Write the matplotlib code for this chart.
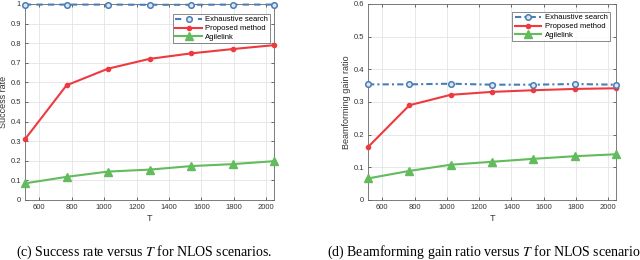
import matplotlib
matplotlib.use("Agg")
import matplotlib.pyplot as plt

T = [512, 768, 1024, 1280, 1536, 1792, 2048]
xticks = [600, 800, 1000, 1200, 1400, 1600, 1800, 2000]

sr_exhaustive = [0.997, 0.997, 0.997, 0.996, 0.996, 0.997, 0.997]
sr_proposed = [0.31, 0.585, 0.67, 0.72, 0.748, 0.77, 0.79]
sr_agile = [0.085, 0.118, 0.145, 0.155, 0.173, 0.183, 0.198]

bg_exhaustive = [0.354, 0.354, 0.356, 0.353, 0.353, 0.355, 0.353]
bg_proposed = [0.162, 0.29, 0.322, 0.331, 0.336, 0.340, 0.342]
bg_agile = [0.066, 0.089, 0.108, 0.117, 0.126, 0.134, 0.140]

labels = ["Exhaustive search", "Proposed method", "Agilelink"]
captions = ["(c) Success rate versus $T$ for NLOS scenarios.",
            "(d) Beamforming gain ratio versus $T$ for NLOS scenarios."]

BLUE = "#4a7db5"
RED = "#ee3a3f"
GREEN = "#62bb5c"

plt.rcParams["font.family"] = ["Liberation Sans", "DejaVu Sans"]
plt.rcParams["mathtext.fontset"] = "stix"

fig = plt.figure(figsize=(6.4, 2.6), dpi=100)
ax1 = fig.add_axes([25/640, 1-200/260, 249/640, 196/260])
ax2 = fig.add_axes([368/640, 1-200/260, 248/640, 196/260])

def style(ax, ylim, yticks, ylabel, yticklabels=None):
    ax.set_xlim(512, 2048)
    ax.set_ylim(*ylim)
    ax.set_xticks(xticks)
    ax.set_yticks(yticks)
    if yticklabels is not None:
        ax.set_yticklabels(yticklabels)
    ax.grid(True, color="#e4e4e4", linewidth=0.6)
    ax.set_axisbelow(True)
    ax.tick_params(direction="in", length=2.5, width=0.5, labelsize=5.5,
                   colors="#333333", pad=3, top=True, right=True)
    for s in ax.spines.values():
        s.set_color("#666666")
        s.set_linewidth(0.6)
    ax.set_xlabel("T", fontsize=6.5, color="#333333", labelpad=2)
    ax.set_ylabel(ylabel, fontsize=6.5, color="#333333", labelpad=2)

LW = 1.5
# left
ax1.plot(T, sr_exhaustive, color=BLUE, linestyle=(0, (3, 2.5)), linewidth=LW,
         marker="o", markersize=4, markerfacecolor="#dbe6f2", markeredgewidth=1.1,
         label=labels[0], clip_on=False, zorder=4)
ax1.plot(T, sr_proposed, color=RED, linewidth=LW, marker="o", markersize=3,
         label=labels[1], clip_on=False, zorder=3)
ax1.plot(T, sr_agile, color=GREEN, linewidth=LW, marker="^", markersize=5.5,
         label=labels[2], clip_on=False, zorder=3)
style(ax1, (0, 1), [i/10 for i in range(11)], "Success rate",
      ["0", "0.1", "0.2", "0.3", "0.4", "0.5", "0.6", "0.7", "0.8", "0.9", "1"])
leg1 = ax1.legend(loc="upper right", fontsize=5.5, frameon=True, fancybox=False,
                  borderpad=0.3, handlelength=3.5, handletextpad=0.4,
                  labelspacing=0.2, bbox_to_anchor=(1.0, 0.97))
leg1.get_frame().set_edgecolor("#333333")
leg1.get_frame().set_linewidth(0.5)

# right
ax2.plot(T, bg_exhaustive, color=BLUE, linestyle=(0, (3, 1.5, 1, 1.5)), linewidth=LW,
         marker="o", markersize=4, markerfacecolor="#dbe6f2", markeredgewidth=1.1,
         label=labels[0], clip_on=False, zorder=4)
ax2.plot(T, bg_proposed, color=RED, linewidth=LW, marker="o", markersize=3,
         label=labels[1], clip_on=False, zorder=3)
ax2.plot(T, bg_agile, color=GREEN, linewidth=LW, marker="^", markersize=5.5,
         label=labels[2], clip_on=False, zorder=3)
style(ax2, (0, 0.6), [0, 0.1, 0.2, 0.3, 0.4, 0.5, 0.6], "Beamforming gain ratio",
      ["0", "0.1", "0.2", "0.3", "0.4", "0.5", "0.6"])
leg2 = ax2.legend(loc="upper right", fontsize=5.5, frameon=True, fancybox=False,
                  borderpad=0.3, handlelength=3.5, handletextpad=0.4,
                  labelspacing=0.2, bbox_to_anchor=(0.99, 0.98))
leg2.get_frame().set_edgecolor("#333333")
leg2.get_frame().set_linewidth(0.5)

fig.text(16/640, 1-252/260, captions[0], fontsize=10, family="Liberation Serif",
         va="center", ha="left")
fig.text(327/640, 1-252/260, captions[1], fontsize=10, family="Liberation Serif",
         va="center", ha="left")

fig.savefig("out.png", dpi=100)
